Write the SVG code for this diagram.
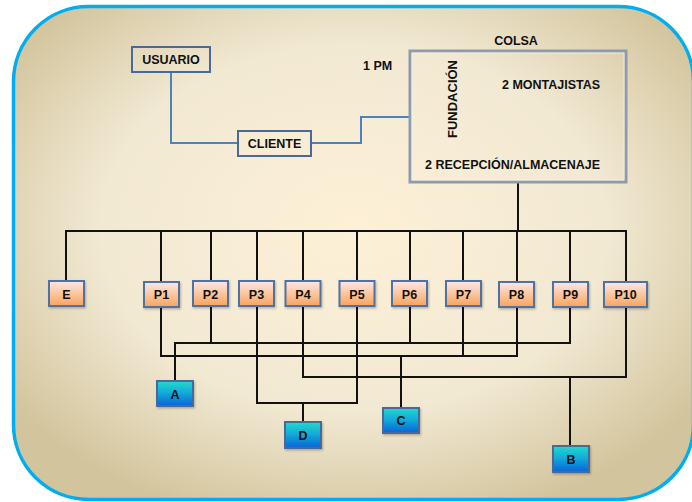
<svg xmlns="http://www.w3.org/2000/svg" width="692" height="502" viewBox="0 0 692 502">
  <defs>
    <radialGradient id="bgFill" cx="0.5" cy="0.45" r="0.62">
      <stop offset="0" stop-color="#fdf0d6"/>
      <stop offset="0.6" stop-color="#f2e9d3"/>
      <stop offset="1" stop-color="#d2c49c"/>
    </radialGradient>
    <linearGradient id="peach" x1="0" y1="0" x2="0" y2="1">
      <stop offset="0" stop-color="#fde6ea"/>
      <stop offset="0.45" stop-color="#fcc9a4"/>
      <stop offset="1" stop-color="#f8a35e"/>
    </linearGradient>
    <linearGradient id="aqua" x1="0" y1="0" x2="0" y2="1">
      <stop offset="0" stop-color="#22dbcb"/>
      <stop offset="0.5" stop-color="#12a6da"/>
      <stop offset="1" stop-color="#0a63d6"/>
    </linearGradient>
    <filter id="shadow" x="-20%" y="-20%" width="140%" height="150%">
      <feDropShadow dx="1" dy="1.5" stdDeviation="1" flood-color="#000" flood-opacity="0.25"/>
    </filter>
  </defs>
  <style>
    text { font-family: "Liberation Sans", Arial, sans-serif; font-weight: bold; font-size: 12.5px; fill: #111; }
    .mid { text-anchor: middle; }
    .plain { fill: none; stroke: #4a6898; stroke-width: 2; }
    .p { fill: url(#peach); stroke: #4e72a6; stroke-width: 2; filter: url(#shadow); }
    .g { fill: url(#aqua); stroke: #4a6a98; stroke-width: 2; filter: url(#shadow); }
    .wire { fill: none; stroke: #111; stroke-width: 2; }
    .blue { fill: none; stroke: #4f81bd; stroke-width: 2; }
  </style>

  <!-- panel -->
  <rect x="13.5" y="6.5" width="680" height="493" rx="75" ry="75" fill="url(#bgFill)" stroke="#00aeef" stroke-width="3.5"/>

  <g id="connectors">
    <!-- usuario / cliente / colsa -->
    <polyline class="blue" points="171,72 171,143 238,143"/>
    <polyline class="blue" points="311,143 361,143 361,117 410,117"/>
    <!-- colsa stem and bus -->
    <polyline class="wire" points="518,182 518,231"/>
    <polyline class="wire" points="66,281 66,231 626,231 626,281"/>
    <line class="wire" x1="161" y1="231" x2="161" y2="281"/>
    <line class="wire" x1="211" y1="231" x2="211" y2="281"/>
    <line class="wire" x1="257" y1="231" x2="257" y2="281"/>
    <line class="wire" x1="303" y1="231" x2="303" y2="281"/>
    <line class="wire" x1="357" y1="231" x2="357" y2="281"/>
    <line class="wire" x1="410" y1="231" x2="410" y2="281"/>
    <line class="wire" x1="463" y1="231" x2="463" y2="281"/>
    <line class="wire" x1="517" y1="231" x2="517" y2="281"/>
    <line class="wire" x1="570" y1="231" x2="570" y2="281"/>
    <!-- A: P2, P6, P9 -->
    <polyline class="wire" points="175,381 175,343 570,343 570,307"/>
    <line class="wire" x1="211" y1="307" x2="211" y2="343"/>
    <line class="wire" x1="410" y1="307" x2="410" y2="343"/>
    <!-- C: P1, P7, P8 -->
    <polyline class="wire" points="161,307 161,356 517,356 517,307"/>
    <line class="wire" x1="463" y1="307" x2="463" y2="356"/>
    <line class="wire" x1="401" y1="356" x2="401" y2="408"/>
    <!-- B: P4, P10 -->
    <polyline class="wire" points="303,307 303,377 626,377 626,307"/>
    <line class="wire" x1="570" y1="377" x2="570" y2="446"/>
    <!-- D: P3, P5 -->
    <polyline class="wire" points="257,307 257,403 357,403 357,307"/>
    <line class="wire" x1="303" y1="403" x2="303" y2="422"/>
  </g>

  <g id="usuario">
    <rect class="plain" x="132" y="47" width="78" height="25"/>
    <text class="mid" x="171" y="64">USUARIO</text>
  </g>
  <g id="cliente">
    <rect class="plain" x="238" y="131" width="73" height="25"/>
    <text class="mid" x="274.5" y="148">CLIENTE</text>
  </g>
  <g id="pm">
    <text x="363" y="70">1 PM</text>
  </g>
  <g id="colsa">
    <text class="mid" x="516" y="45">COLSA</text>
    <rect x="410" y="51" width="216" height="131" fill="none" stroke="#8e9bab" stroke-width="3"/>
    <rect x="412" y="53" width="212" height="127" fill="none" stroke="#f4f1ea" stroke-width="0.8"/>
    <text x="502" y="89">2 MONTAJISTAS</text>
    <text x="425" y="169">2 RECEPCIÓN/ALMACENAJE</text>
    <text transform="translate(457,99) rotate(-90)" class="mid" style="font-size:13px">FUNDACIÓN</text>
  </g>

  <g id="E"><rect class="p" x="49" y="281" width="35" height="25"/><text class="mid" x="66.5" y="298.5">E</text></g>
  <g id="P1"><rect class="p" x="144" y="282" width="35" height="25"/><text class="mid" x="161.5" y="299">P1</text></g>
  <g id="P2"><rect class="p" x="193" y="281" width="35" height="25"/><text class="mid" x="210.5" y="298.5">P2</text></g>
  <g id="P3"><rect class="p" x="239" y="281" width="35" height="25"/><text class="mid" x="256.5" y="298.5">P3</text></g>
  <g id="P4"><rect class="p" x="285.5" y="281" width="35" height="25"/><text class="mid" x="303" y="298.5">P4</text></g>
  <g id="P5"><rect class="p" x="339.5" y="281" width="35" height="25"/><text class="mid" x="357" y="298.5">P5</text></g>
  <g id="P6"><rect class="p" x="392" y="281" width="35" height="25"/><text class="mid" x="409.5" y="298.5">P6</text></g>
  <g id="P7"><rect class="p" x="446" y="281" width="35" height="25"/><text class="mid" x="463.5" y="298.5">P7</text></g>
  <g id="P8"><rect class="p" x="499" y="282" width="35" height="25"/><text class="mid" x="516.5" y="299">P8</text></g>
  <g id="P9"><rect class="p" x="553" y="282" width="35" height="25"/><text class="mid" x="570.5" y="299">P9</text></g>
  <g id="P10"><rect class="p" x="604" y="282" width="43" height="25"/><text class="mid" x="625.5" y="299">P10</text></g>

  <g id="A"><rect class="g" x="157" y="381" width="36" height="25"/><text class="mid" x="175" y="398.5">A</text></g>
  <g id="D"><rect class="g" x="285" y="422" width="36" height="26"/><text class="mid" x="303" y="439.5">D</text></g>
  <g id="C"><rect class="g" x="383" y="408" width="36" height="25"/><text class="mid" x="401" y="425">C</text></g>
  <g id="B"><rect class="g" x="553" y="446" width="36" height="26"/><text class="mid" x="571" y="463.5">B</text></g>
</svg>
